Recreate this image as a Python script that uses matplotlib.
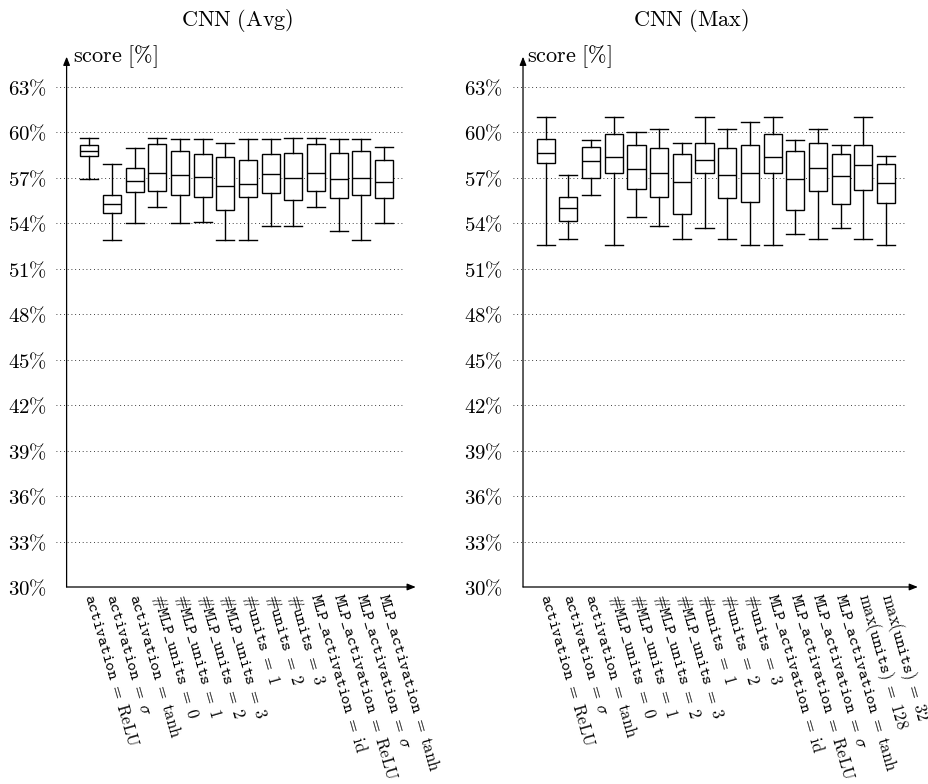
import matplotlib
matplotlib.use("Agg")
import matplotlib.pyplot as plt

plt.rcParams['mathtext.fontset'] = 'cm'

# ---- data ----
avg_labels = [
    r'$\mathtt{activation}\;=\;\mathrm{ReLU}$',
    r'$\mathtt{activation}\;=\;\sigma$',
    r'$\mathtt{activation}\;=\;\tanh$',
    r'$\#\mathtt{MLP}\_\mathtt{units}\;=\;0$',
    r'$\#\mathtt{MLP}\_\mathtt{units}\;=\;1$',
    r'$\#\mathtt{MLP}\_\mathtt{units}\;=\;2$',
    r'$\#\mathtt{MLP}\_\mathtt{units}\;=\;3$',
    r'$\#\mathtt{units}\;=\;1$',
    r'$\#\mathtt{units}\;=\;2$',
    r'$\#\mathtt{units}\;=\;3$',
    r'$\mathtt{MLP}\_\mathtt{activation}\;=\;\mathrm{id}$',
    r'$\mathtt{MLP}\_\mathtt{activation}\;=\;\mathrm{ReLU}$',
    r'$\mathtt{MLP}\_\mathtt{activation}\;=\;\sigma$',
    r'$\mathtt{MLP}\_\mathtt{activation}\;=\;\tanh$',
]
max_labels = avg_labels + [
    r'$\max(\mathtt{units})\;=\;128$',
    r'$\max(\mathtt{units})\;=\;32$',
]

avg_whislo = [56.9, 52.9, 54.05, 55.1, 54.05, 54.1, 52.9, 52.9, 53.85, 53.85, 55.1, 53.5, 52.9, 54.05]
avg_q1     = [58.45, 54.7, 56.1, 56.15, 55.9, 55.75, 54.85, 55.75, 56.0, 55.55, 56.15, 55.7, 55.85, 55.65]
avg_med    = [58.8, 55.25, 56.8, 57.35, 57.2, 57.05, 56.45, 56.6, 57.25, 57.0, 57.35, 56.95, 57.0, 56.75]
avg_q3     = [59.15, 55.85, 57.65, 59.25, 58.75, 58.6, 58.35, 58.2, 58.55, 58.65, 59.25, 58.65, 58.8, 58.2]
avg_whishi = [59.65, 57.95, 59.0, 59.65, 59.6, 59.55, 59.3, 59.6, 59.6, 59.65, 59.65, 59.55, 59.6, 59.05]

max_whislo = [52.6, 53.0, 55.9, 52.6, 54.45, 53.8, 53.0, 53.7, 53.0, 52.6, 52.6, 53.3, 53.0, 53.7, 53.0, 52.6]
max_q1     = [58.0, 54.15, 57.0, 57.3, 56.3, 55.75, 54.6, 57.3, 55.65, 55.4, 57.3, 54.85, 56.15, 55.25, 56.2, 55.35]
max_med    = [58.65, 55.0, 58.1, 58.4, 57.6, 57.35, 56.75, 58.15, 57.2, 57.35, 58.4, 56.9, 57.65, 57.1, 57.85, 56.65]
max_q3     = [59.6, 55.75, 59.05, 59.9, 59.15, 59.0, 58.6, 59.3, 58.95, 59.2, 59.9, 58.8, 59.3, 58.6, 59.2, 57.9]
max_whishi = [61.0, 57.2, 59.5, 61.0, 60.0, 60.25, 59.3, 61.0, 60.25, 60.7, 61.0, 59.5, 60.25, 59.2, 61.0, 58.45]

yticks = [30, 33, 36, 39, 42, 45, 48, 51, 54, 57, 60, 63]
ytick_labels = [r'$%d\%%$' % v for v in yticks]

W, H = 929, 784
fig = plt.figure(figsize=(W / 100, H / 100), dpi=100)


def make_panel(rect, title, title_x, labels, lo, q1, med, q3, hi, grid_end, arrow_end):
    ax = fig.add_axes(rect)
    n = len(labels)
    stats = [dict(whislo=lo[i], q1=q1[i], med=med[i], q3=q3[i], whishi=hi[i], fliers=[])
             for i in range(n)]
    lw = 1.0
    ax.bxp(stats, positions=list(range(1, n + 1)), widths=0.8, capwidths=0.8,
           showfliers=False, patch_artist=True,
           boxprops=dict(facecolor='white', edgecolor='black', linewidth=lw),
           medianprops=dict(color='black', linewidth=lw),
           whiskerprops=dict(color='black', linewidth=lw),
           capprops=dict(color='black', linewidth=lw), zorder=3)
    ax.set_xlim(-0.45, arrow_end + 0.05)
    ax.set_ylim(30, 65)
    for s in ax.spines.values():
        s.set_visible(False)
    # grid
    ax.hlines(yticks[1:], -0.45, grid_end, colors='black', linewidth=0.6,
              linestyles=(0, (1, 3.5)), zorder=1)
    # axis lines with arrows
    ax.annotate('', xy=(0, 65), xytext=(0, 30), annotation_clip=False,
                arrowprops=dict(arrowstyle='-|>,head_length=0.5,head_width=0.2',
                                color='black', lw=0.9, shrinkA=0, shrinkB=0))
    ax.annotate('', xy=(arrow_end, 30), xytext=(0, 30), annotation_clip=False,
                arrowprops=dict(arrowstyle='-|>,head_length=0.5,head_width=0.2',
                                color='black', lw=0.9, shrinkA=0, shrinkB=0))
    ax.set_yticks(yticks)
    ax.set_yticklabels(ytick_labels, fontsize=15)
    ax.tick_params(axis='y', length=0, pad=7)
    ax.set_xticks(list(range(1, n + 1)))
    ax.set_xticklabels(labels, fontsize=12, rotation=-74, ha='left', va='center',
                       rotation_mode='anchor')
    ax.tick_params(axis='x', length=0, pad=5)
    fig.text(title_x / W, 1 - 20 / H, title, ha='center', va='center', fontsize=16)
    return ax


axL = make_panel([56.4 / W, 197 / H, 360.5 / W, 530.3 / H], r'$\mathrm{CNN\ (Avg)}$', 237,
                 avg_labels, avg_whislo, avg_q1, avg_med, avg_q3, avg_whishi, 14.85, 15.4)
axR = make_panel([512.8 / W, 197 / H, 406.2 / W, 530.3 / H], r'$\mathrm{CNN\ (Max)}$', 691,
                 max_labels, max_whislo, max_q1, max_med, max_q3, max_whishi, 16.85, 17.4)

fig.text(73 / W, 1 - 57 / H, r'$\mathrm{score\ [\%]}$', ha='left', va='center', fontsize=16)
fig.text(527 / W, 1 - 57 / H, r'$\mathrm{score\ [\%]}$', ha='left', va='center', fontsize=16)

fig.savefig('out.png', dpi=100)
